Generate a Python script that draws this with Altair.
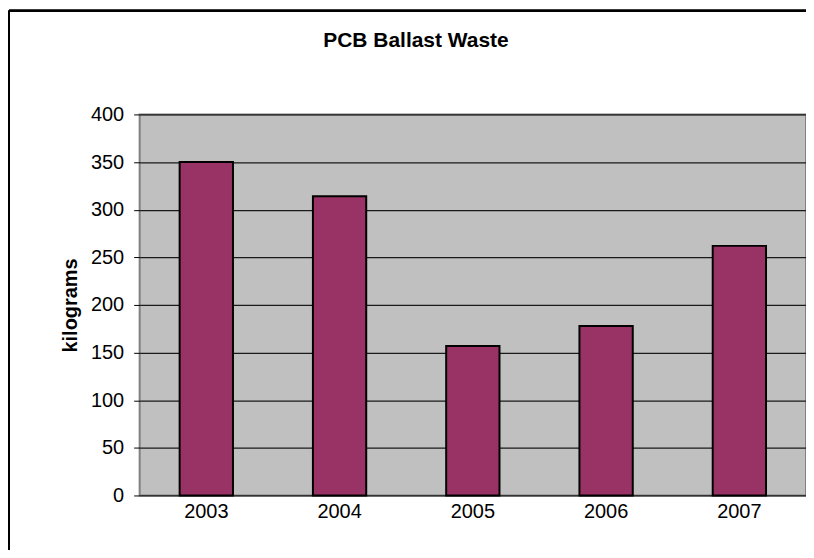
import altair as alt
import pandas as pd

years = ["2003", "2004", "2005", "2006", "2007"]
kilograms = [350, 314, 157, 178, 262]
chart_title = ["PCB Ballast Waste"]

df = pd.DataFrame({"year": years, "kg": kilograms})
title_df = pd.DataFrame({"t": chart_title})

FONT = "Liberation Sans"

bars = alt.Chart(df).mark_bar(
    fill="#993366", stroke="#000000", strokeWidth=2
).encode(
    x=alt.X("year:N", sort=years,
            scale=alt.Scale(paddingInner=0.6, paddingOuter=0.3),
            axis=alt.Axis(title=None, labelAngle=0, ticks=False, domain=False,
                          labelFontSize=20, labelFont=FONT, labelColor="#000000",
                          labelPadding=6)),
    y=alt.Y("kg:Q", scale=alt.Scale(domain=[0, 400], nice=False),
            axis=alt.Axis(title="kilograms", values=[0, 50, 100, 150, 200, 250, 300, 350, 400],
                          titleFont=FONT, titleFontSize=20, titleFontWeight="bold",
                          titleColor="#000000", titlePadding=10,
                          labelFont=FONT, labelFontSize=20, labelColor="#000000",
                          labelPadding=10, tickSize=6, tickColor="#000000",
                          domain=False, grid=True, gridColor="#1a1a1a", gridWidth=1.2)),
)

# outer chart frame (left and top edges visible in the reference)
frame_left = alt.Chart(df).mark_rule(color="#000000", strokeWidth=2, clip=False).encode(
    x=alt.value(-131), y=alt.value(-104), y2=alt.value(470)
)
frame_top = alt.Chart(df).mark_rule(color="#000000", strokeWidth=2, clip=False).encode(
    x=alt.value(-131), x2=alt.value(700), y=alt.value(-104)
)

title = alt.Chart(title_df).mark_text(
    font=FONT, fontSize=21, fontWeight="bold", color="#000000",
    align="center", baseline="middle", clip=False
).encode(text="t:N", x=alt.value(277), y=alt.value(-74))

chart = alt.layer(frame_left, frame_top, bars, title).properties(
    width=668,
    height=382,
    autosize=alt.AutoSizeParams(type="none"),
    padding={"left": 132, "top": 106, "right": 0, "bottom": 54},
).configure(
    background="#ffffff"
).configure_view(
    fill="#C0C0C0", stroke="#808080", strokeWidth=2
)

chart.save("out.html", embed_options={"renderer": "svg", "actions": False})
